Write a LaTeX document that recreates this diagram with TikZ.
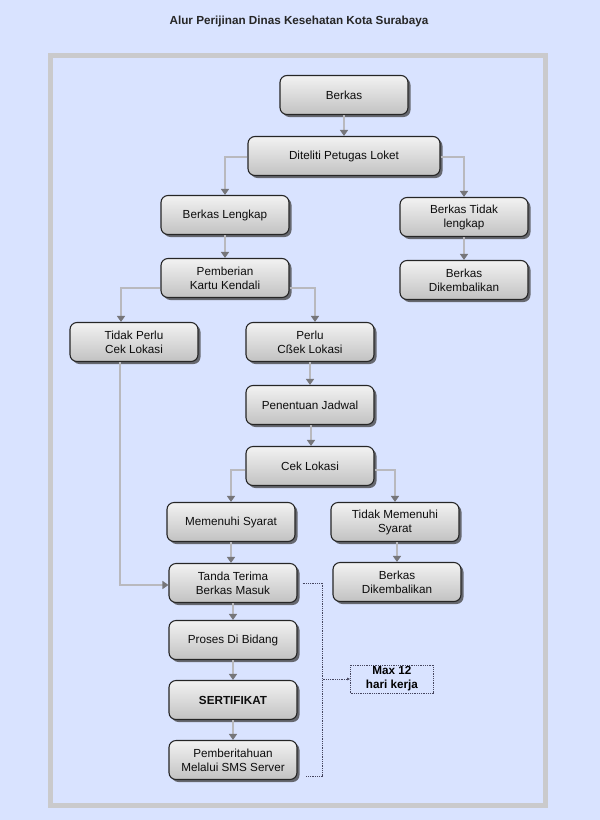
\documentclass[tikz,border=0pt]{standalone}
\usepackage{fontspec}
\setmainfont{Liberation Sans}
\usepackage{tikz}
\usetikzlibrary{arrows.meta}
\usetikzlibrary{shadows}
\definecolor{pagebg}{RGB}{217,227,255}
\definecolor{framegray}{RGB}{202,202,204}
\definecolor{linegray}{RGB}{185,185,190}
\definecolor{tipgray}{RGB}{118,118,122}
\definecolor{dotblue}{RGB}{70,70,95}
\tikzset{
    flow_node/.style = {align=center, rectangle, rounded corners=7pt, draw=black!85, line width=1.1pt,
        top color=white!95!black, bottom color=black!24, text=black!95,
        minimum width=128pt, minimum height=39pt, inner sep=2pt,
        font=\fontsize{11.7}{14}\selectfont,
        drop shadow={shadow xshift=2.5pt, shadow yshift=-2.5pt, fill=black!75, opacity=0.75}},
    note_node/.style = {align=center, rectangle, draw=dotblue, densely dotted, line width=0.8pt,
        minimum width=83pt, minimum height=28pt, inner sep=1pt,
        font=\fontsize{11.7}{14}\selectfont\bfseries},
    flow_line/.style = {draw=linegray, line width=1.4pt, -{Triangle[width=8pt,length=6pt,color=tipgray]}},
    dotted_line/.style = {draw=dotblue, densely dotted, line width=0.8pt}
}
\begin{document}
\begin{tikzpicture}[x=1pt, y=-1pt]
    \fill[pagebg] (0,0) rectangle (600,820);
    \useasboundingbox (0,0) rectangle (600,820);
    \draw[framegray, line width=5pt] (50.5,55.5) rectangle (545,805);
    \node (title) at (299,21) {\fontsize{11.7}{14}\selectfont\bfseries\color{black!85}Alur Perijinan Dinas Kesehatan Kota Surabaya};

    % main column
    \node [flow_node] (berkas) at (344,95) {Berkas};
    \node [flow_node, minimum width=192pt] (diteliti) at (344,156) {Diteliti Petugas Loket};
    \node [flow_node] (lengkap) at (225,215) {Berkas Lengkap};
    \node [flow_node] (tdk_lengkap) at (464,217) {Berkas Tidak\\lengkap};
    \node [flow_node] (kembali_a) at (464,280) {Berkas\\Dikembalikan};
    \node [flow_node] (kartu) at (225,278) {Pemberian\\Kartu Kendali};
    \node [flow_node] (tdk_perlu) at (134,342) {Tidak Perlu\\Cek Lokasi};
    \node [flow_node] (perlu) at (310,342) {Perlu\\C\ss ek Lokasi};
    \node [flow_node] (jadwal) at (310,405) {Penentuan Jadwal};
    \node [flow_node] (cek) at (310,466) {Cek Lokasi};
    \node [flow_node] (memenuhi) at (231,522) {Memenuhi Syarat};
    \node [flow_node] (tdk_memenuhi) at (395,522) {Tidak Memenuhi\\Syarat};
    \node [flow_node] (tanda) at (233,583) {Tanda Terima\\Berkas Masuk};
    \node [flow_node] (kembali_b) at (397,582) {Berkas\\Dikembalikan};
    \node [flow_node] (proses) at (233,640) {Proses Di Bidang};
    \node [flow_node, font=\fontsize{11.7}{14}\selectfont\bfseries] (sertifikat) at (233,700) {SERTIFIKAT};
    \node [flow_node] (sms) at (233,760) {Pemberitahuan\\Melalui SMS Server};
    \node [note_node] (max) at (392,679) {Max 12\\hari kerja};

    % connectors
    \draw[flow_line] (berkas) -- (diteliti);
    \draw[flow_line] ([yshift=-1pt]diteliti.west) -| (lengkap.north);
    \draw[flow_line] ([yshift=-1pt]diteliti.east) -| (tdk_lengkap.north);
    \draw[flow_line] (tdk_lengkap) -- (kembali_a);
    \draw[flow_line] (lengkap) -- (kartu);
    \draw[flow_line] ([yshift=-10pt]kartu.west) -| ([xshift=-13pt]tdk_perlu.north);
    \draw[flow_line] ([yshift=-10pt]kartu.east) -| ([xshift=5pt]perlu.north);
    \draw[flow_line] (perlu) -- (jadwal);
    \draw[flow_line] ([xshift=1pt]jadwal.south) -- ([xshift=1pt]cek.north);
    \draw[flow_line] ([yshift=-4pt]cek.west) -| (memenuhi.north);
    \draw[flow_line] ([yshift=-4pt]cek.east) -| (tdk_memenuhi.north);
    \draw[flow_line] (memenuhi) -- (memenuhi |- tanda.north);
    \draw[flow_line] ([xshift=2pt]tdk_memenuhi.south) -- (kembali_b);
    \draw[flow_line] ([xshift=-14pt]tdk_perlu.south) |- ([yshift=-2pt]tanda.west);
    \draw[flow_line] (tanda) -- (proses);
    \draw[flow_line] (proses) -- (sertifikat);
    \draw[flow_line] (sertifikat) -- (sms);

    % time bracket
    \draw[dotted_line] ([xshift=5pt]tanda.east) -| coordinate (brk) ([xshift=25pt,yshift=-16pt]sms.east) -- ([xshift=8pt,yshift=-16pt]sms.east);
    \draw[dotted_line, -{Latex[length=3pt,width=3pt]}] (brk |- max.west) -- (max.west);
\end{tikzpicture}
\end{document}
